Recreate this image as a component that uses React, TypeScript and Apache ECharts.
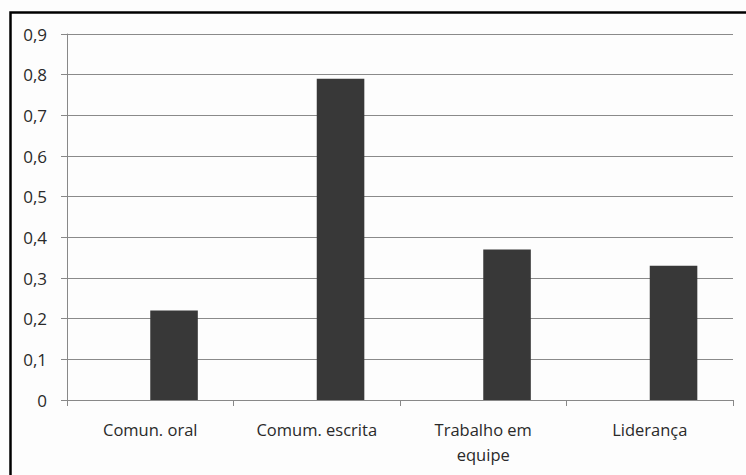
import React, { useEffect, useRef } from "react";
import * as echarts from "echarts";

const categories = ["Comun. oral", "Comum. escrita", "Trabalho em\nequipe", "Liderança"];
const emptySeries: (number | null)[] = [null, null, null, null];
const values = [0.22, 0.79, 0.37, 0.33];

export default function App() {
  const ref = useRef<HTMLDivElement>(null);
  useEffect(() => {
    if (!ref.current) return;
    const chart = echarts.init(ref.current, undefined, { renderer: "svg" });
    const font = "'Open Sans', 'Noto Sans', sans-serif";
    chart.setOption({
      animation: false,
      backgroundColor: "#fdfdfd",
      graphic: [
        {
          type: "rect",
          shape: { x: 10.5, y: 12.5, width: 800, height: 600 },
          style: { fill: "none", stroke: "#000", lineWidth: 2.5 },
          silent: true,
        },
      ],
      grid: { left: 67, right: 13, top: 34, bottom: 75, containLabel: false },
      xAxis: {
        type: "category",
        data: categories,
        axisLine: { show: true, lineStyle: { color: "#888", width: 1 } },
        axisTick: { show: true, alignWithLabel: false, length: 6, lineStyle: { color: "#888" } },
        axisLabel: {
          color: "#2a2a2a",
          fontFamily: font,
          fontSize: 16.5,
          margin: 17,
          lineHeight: 25,
          interval: 0,
        },
        splitLine: { show: false },
      },
      yAxis: {
        type: "value",
        min: 0,
        max: 0.9,
        interval: 0.1,
        axisLine: { show: true, lineStyle: { color: "#888", width: 1 } },
        axisTick: { show: true, length: 6, lineStyle: { color: "#888" } },
        axisLabel: {
          color: "#2a2a2a",
          fontFamily: font,
          fontSize: 17,
          margin: 20,
          formatter: (v: number) => (Math.round(v * 10) / 10).toString().replace(".", ","),
        },
        splitLine: { show: true, lineStyle: { color: "#8a8a8a", width: 1 } },
      },
      series: [
        {
          type: "bar",
          data: emptySeries,
          barGap: "0%",
          barCategoryGap: "42.86%",
          itemStyle: { color: "#383838" },
        },
        {
          type: "bar",
          data: values,
          barGap: "0%",
          barCategoryGap: "42.86%",
          itemStyle: { color: "#383838" },
        },
      ],
    });
    return () => chart.dispose();
  }, []);
  return (
    <div
      ref={ref}
      style={{ position: "fixed", left: 0, top: 0, width: 746, height: 475, background: "#fdfdfd" }}
    />
  );
}
